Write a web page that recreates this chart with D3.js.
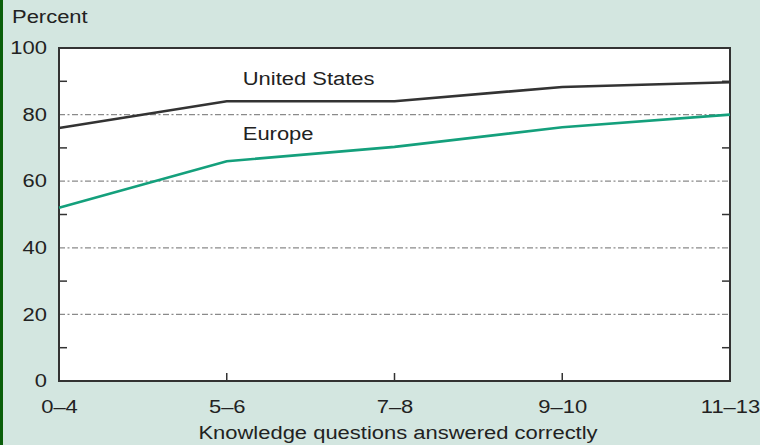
<!DOCTYPE html>
<html><head><meta charset="utf-8">
<script src="https://cdn.jsdelivr.net/npm/d3@7"></script>
<style>
html,body{margin:0;padding:0;background:#d3e6e0;}
svg{display:block;}
text{font-family:"Liberation Sans",Arial,Helvetica,sans-serif;fill:#222;}
</style></head>
<body>
<svg id="c" width="760" height="445"></svg>
<script>
const categories = ["0\u20134","5\u20136","7\u20138","9\u201310","11\u201313"];
const usValues = [76, 84, 84, 88.3, 89.7];
const europeValues = [52, 66, 70.3, 76.2, 80];
const yTicks = [0, 20, 40, 60, 80, 100];
const minorTicks = [10, 30, 50, 70, 90];
const gridValues = [20, 40, 60, 80];

const svg = d3.select("#c");
const W = 760, H = 445;
const m = {left: 59, right: 30, top: 48, bottom: 64};
const iw = W - m.left - m.right, ih = H - m.top - m.bottom;
const FS = 18;

svg.append("rect").attr("x",0).attr("y",0).attr("width",W).attr("height",H).attr("fill","#d3e6e0");
svg.append("rect").attr("x",0).attr("y",0).attr("width",3).attr("height",H).attr("fill","#0a5e0a");

const x = d3.scalePoint().domain(categories).range([0, iw]);
const y = d3.scaleLinear().domain([0,100]).range([ih, 0]);

const g = svg.append("g").attr("transform",`translate(${m.left},${m.top})`);
g.append("rect").attr("width",iw).attr("height",ih).attr("fill","#fff");

// gridlines
g.selectAll(".grid").data(gridValues).join("line")
  .attr("x1",0).attr("x2",iw).attr("y1",d=>y(d)).attr("y2",d=>y(d))
  .attr("stroke","#8a8a8a").attr("stroke-width",1.2).attr("stroke-dasharray","6,2.5,2,2.5");

// minor ticks left and right (inward)
g.selectAll(".ml").data(minorTicks).join("line")
  .attr("x1",0).attr("x2",8).attr("y1",d=>y(d)).attr("y2",d=>y(d))
  .attr("stroke","#333").attr("stroke-width",1.5);
g.selectAll(".mr").data(minorTicks).join("line")
  .attr("x1",iw-8).attr("x2",iw).attr("y1",d=>y(d)).attr("y2",d=>y(d))
  .attr("stroke","#333").attr("stroke-width",1.5);
// x interior ticks
g.selectAll(".xt").data(categories.slice(1,-1)).join("line")
  .attr("x1",d=>x(d)).attr("x2",d=>x(d)).attr("y1",ih).attr("y2",ih-8)
  .attr("stroke","#333").attr("stroke-width",1.5);

// frame
g.append("rect").attr("width",iw).attr("height",ih).attr("fill","none")
  .attr("stroke","#333").attr("stroke-width",2);

// lines
const line = d3.line().x((d,i)=>x(categories[i])).y(d=>y(d));
g.append("path").datum(europeValues).attr("d",line).attr("fill","none")
  .attr("stroke","#14a07c").attr("stroke-width",2.6);
g.append("path").datum(usValues).attr("d",line).attr("fill","none")
  .attr("stroke","#333").attr("stroke-width",2.6);

// y axis labels
const yAxis = d3.axisLeft(y).tickValues(yTicks).tickSize(0).tickPadding(12);
const ya = g.append("g").call(yAxis);
ya.select(".domain").remove();
ya.selectAll("text").attr("font-size",FS).attr("fill","#222").style("font-family","Liberation Sans, Arial, sans-serif");

// x axis labels
const xAxis = d3.axisBottom(x).tickSize(0).tickPadding(19);
const xa = g.append("g").attr("transform",`translate(0,${ih})`).call(xAxis);
xa.select(".domain").remove();
xa.selectAll("text").attr("font-size",FS).attr("fill","#222").style("font-family","Liberation Sans, Arial, sans-serif");

// titles
svg.append("text").attr("x",12).attr("y",23).attr("font-size",FS).text("Percent");
svg.append("text").attr("x", 398).attr("y",439).attr("text-anchor","middle").attr("font-size",FS).text("Knowledge questions answered correctly");

// series labels
g.append("text").attr("x",x(categories[1])+16).attr("y",y(usValues[1])-16).attr("font-size",FS).text("United States");
g.append("text").attr("x",x(categories[1])+16).attr("y",y(europeValues[1])-21).attr("font-size",FS).text("Europe");

// widen glyphs to match the reference's stretched typeface
svg.selectAll("text").each(function(){
  const w = this.getComputedTextLength();
  d3.select(this).attr("textLength", (w*1.22).toFixed(1)).attr("lengthAdjust","spacingAndGlyphs");
});
</script>
</body></html>
